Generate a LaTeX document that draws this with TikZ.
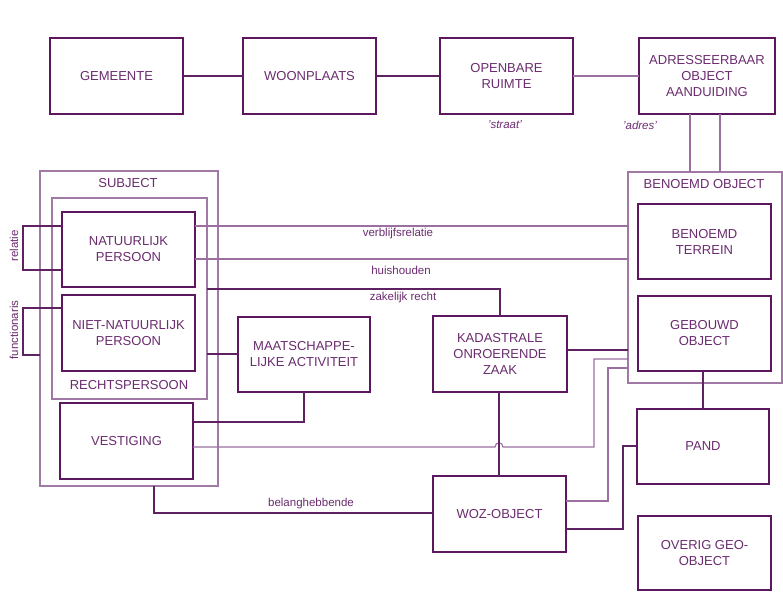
\documentclass[tikz,border=0pt]{standalone}
\usepackage{fontspec}
\setmainfont{Liberation Sans}
\begin{document}
\begin{tikzpicture}[x=1pt,y=-1pt,
  txtc/.style={text=txtcol},
  box/.style={draw=boxcol, line width=1.5pt, rectangle, minimum width=133pt, minimum height=76pt,
    align=center, text=txtcol, font=\fontsize{13}{16}\selectfont, outer sep=0pt, inner sep=2pt},
  cont/.style={draw=contcol, line width=1.1pt, rectangle, outer sep=0pt, inner sep=0pt},
  clabel/.style={text=txtcol, font=\fontsize{13}{16}\selectfont},
  elabel/.style={text=txtcol, font=\fontsize{11.5}{14}\selectfont},
  dk/.style={draw=linecol, line width=1.1pt},
  lt/.style={draw=lightcol, line width=1.1pt}]
\definecolor{boxcol}{HTML}{5C1760}
\definecolor{txtcol}{HTML}{6B2C6F}
\definecolor{contcol}{HTML}{A07AA5}
\definecolor{linecol}{HTML}{5E2262}
\definecolor{lightcol}{HTML}{9B6FA0}
\useasboundingbox[fill=white] (0,0) rectangle (783,593);

% containers
\node[cont, minimum width=178pt, minimum height=315pt] (subj) at (129,328.5) {};
\node[cont, minimum width=155pt, minimum height=201pt] (rp) at (129.5,298.5) {};
\node[cont, minimum width=154pt, minimum height=211pt] (bo) at (705,277.5) {};
\node[clabel] (subjl) at (128,183.5) {SUBJECT};
\node[clabel] (rpl) at (129,385) {RECHTSPERSOON};
\node[clabel] (bol) at (704,184.5) {BENOEMD OBJECT};

% boxes
\node[box] (gem) at (116.5,76) {GEMEENTE};
\node[box] (woon) at (309.5,76) {WOONPLAATS};
\node[box] (open) at (506.5,76) {OPENBARE\\RUIMTE};
\node[box, minimum width=136pt] (adr) at (707,76) {ADRESSEERBAAR\\OBJECT\\AANDUIDING};
\node[box, minimum height=75pt] (np) at (128.5,249.5) {NATUURLIJK\\PERSOON};
\node[box] (nnp) at (128.5,333) {NIET-NATUURLIJK\\PERSOON};
\node[box] (ves) at (126.5,441) {VESTIGING};
\node[box, minimum width=132pt, minimum height=75pt] (ma) at (304,354.5) {MAATSCHAPPE-\\LIJKE ACTIVITEIT};
\node[box, minimum width=134pt] (kz) at (500,354) {KADASTRALE\\ONROERENDE\\ZAAK};
\node[box] (woz) at (499.5,514) {WOZ-OBJECT};
\node[box, minimum height=75pt] (bt) at (704.5,241.5) {BENOEMD\\TERREIN};
\node[box, minimum height=75pt] (go) at (704.5,333.5) {GEBOUWD\\OBJECT};
\node[box, minimum width=132pt, minimum height=75pt] (pand) at (703,446.5) {PAND};
\node[box, minimum height=74pt] (ov) at (704.5,553) {OVERIG GEO-\\OBJECT};

% labels
\node[elabel, font=\itshape\fontsize{11.5}{14}\selectfont] (straat) at (505,125) {'straat'};
\node[elabel, font=\itshape\fontsize{11.5}{14}\selectfont] (adres) at (640,125) {'adres'};
\node[elabel] (verbl) at (398,234) {verblijfsrelatie};
\node[elabel] (huis) at (401,270.5) {huishouden};
\node[elabel] (zak) at (403,297.5) {zakelijk recht};
\node[elabel] (belang) at (311,504) {belanghebbende};
\node[elabel, rotate=90] (relat) at (14,246) {relatie};
\node[elabel, rotate=90] (funct) at (14,330) {functionaris};

% connectors top row
\draw[dk] (gem.east) -- (woon.west);
\draw[dk] (woon.east) -- (open.west);
\draw[lt] (open.east) -- (adr.west);
\draw[lt] (adr.south -| 690,0) -- (bo.north -| 690,0);
\draw[lt] (adr.south -| 720,0) -- (bo.north -| 720,0);

% subject loops
\draw[dk] (np.west |- 0,226) -- (23,226) -- (23,270) -- (np.west |- 0,270);
\draw[dk] (nnp.west |- 0,308) -- (23,308) -- (23,355) -- (subj.west |- 0,355);

% np to benoemd object
\draw[lt] (np.east |- 0,226) -- (bo.west |- 0,226);
\draw[lt] (np.east |- 0,259) -- (bo.west |- 0,259);

% zakelijk recht
\draw[dk] (rp.east |- 0,289) -- (kz.north |- 0,289) -- (kz.north);
\draw[dk] (rp.east |- 0,354) -- (ma.west |- 0,354);
\draw[dk] (ma.south -| 304,0) -- (304,422) -- (ves.east |- 0,422);

% vestiging to benoemd object, with jump
\draw[lt] (ves.east |- 0,447) -- (495,447) .. controls (495,441.5) and (503,441.5) .. (503,447) -- (594,447) -- (594,359) -- (bo.west |- 0,359);

% kadastrale
\draw[dk] (kz.east |- 0,350) -- (bo.west |- 0,350);
\draw[dk] (kz.south -| 499,0) -- (woz.north -| 499,0);

% woz
\draw[lt] (woz.east |- 0,501) -- (608,501) -- (608,368) -- (bo.west |- 0,368);
\draw[dk] (woz.east |- 0,529) -- (623,529) -- (623,446) -- (pand.west |- 0,446);
\draw[dk] (go.south -| 703,0) -- (pand.north -| 703,0);

% belanghebbende
\draw[dk] (subj.south -| 154,0) -- (154,513) -- (woz.west |- 0,513);
\end{tikzpicture}
\end{document}
